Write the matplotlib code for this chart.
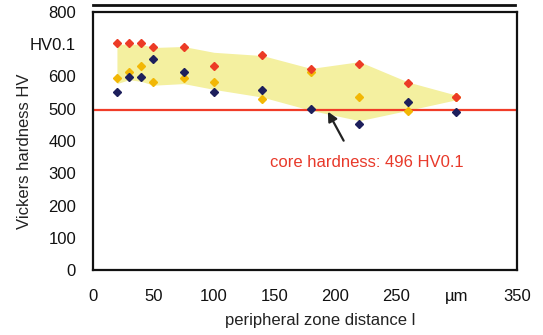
import matplotlib
matplotlib.use("Agg")
import matplotlib.pyplot as plt
from matplotlib.lines import Line2D

plt.rcParams['font.family'] = ['Liberation Sans', 'DejaVu Sans']

distance = [20, 30, 40, 50, 75, 100, 140, 180, 220, 260, 300]
hv_red = [705, 705, 705, 690, 690, 632, 667, 623, 638, 581, 536]
hv_orange = [596, 615, 633, 583, 596, 583, 531, 615, 536, 492, 536]
hv_navy = [552, 597, 597, 653, 615, 552, 557, 500, 453, 521, 490]
band_upper = [700, 700, 700, 690, 693, 675, 665, 625, 646, 583, 542]
band_lower = [578, 590, 585, 573, 578, 560, 536, 495, 463, 495, 528]
core_hardness = 496

x_ticks = [0, 50, 100, 150, 200, 250, 300, 350]
x_ticklabels = ['0', '50', '100', '150', '200', '250', 'µm', '350']
y_ticks = [0, 100, 200, 300, 400, 500, 600, 700, 800]
y_ticklabels = ['0', '100', '200', '300', '400', '500', '600', 'HV0.1', '800']

fig = plt.figure(figsize=(5.43, 3.35), dpi=100)
ax = fig.add_axes([92.7/543, 1-270/335, (517-92.7)/543, (270-12)/335])

ax.fill_between(distance, band_lower, band_upper, color='#f4f0a0', lw=0, zorder=1)
ax.axhline(core_hardness, color='#f03c28', lw=1.6, zorder=2)
ax.plot(distance, hv_orange, 'D', color='#f2b705', ms=4.3, zorder=3)
ax.plot(distance, hv_navy, 'D', color='#1d1f5c', ms=4.3, zorder=4)
ax.plot(distance, hv_red, 'D', color='#ec3b26', ms=4.3, zorder=5)

ax.annotate('', xy=(194, 491), xytext=(207, 401),
            arrowprops=dict(arrowstyle='-|>', color='#222222', lw=1.6,
                            mutation_scale=14, shrinkA=0, shrinkB=0), zorder=6)
ax.text(226, 334, 'core hardness: 496 HV0.1', color='#e8392a', fontsize=12,
        ha='center', va='center')

ax.set_xlim(0, 350)
ax.set_ylim(0, 800)
ax.set_xticks(x_ticks)
ax.set_xticklabels(x_ticklabels)
ax.set_yticks(y_ticks)
ax.set_yticklabels(y_ticklabels)
ax.tick_params(length=0, labelsize=12, colors='#111111')
ax.tick_params(axis='x', pad=14)
ax.tick_params(axis='y', pad=12)
for s in ax.spines.values():
    s.set_linewidth(1.6)
    s.set_color('#111111')

ax.set_ylabel('Vickers hardness HV', fontsize=12, color='#222222')
ax.yaxis.set_label_coords(-0.143, 0.46)
ax.set_xlabel('peripheral zone distance l', fontsize=12, color='#222222')
ax.xaxis.set_label_coords(0.535, -0.165)

fig.add_artist(Line2D([93/543, 515/543], [1-5/335, 1-5/335], color='#111111', lw=2))

fig.savefig('out.png', dpi=100)
